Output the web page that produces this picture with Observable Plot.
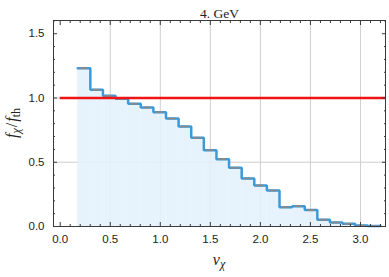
<!DOCTYPE html>
<html>
<head>
<meta charset="utf-8">
<script src="https://cdn.jsdelivr.net/npm/d3@7"></script>
<script src="https://cdn.jsdelivr.net/npm/@observablehq/plot@0.6"></script>
<style>
  html, body { margin: 0; padding: 0; background: #fff; }
</style>
</head>
<body>
<div id="chart"></div>
<script>
const title = "4. GeV";
// histogram bin edges (v_chi)
const binEdges = [0.175, 0.301, 0.427, 0.553, 0.679, 0.805, 0.931, 1.057, 1.183, 1.309,
  1.435, 1.561, 1.687, 1.813, 1.939, 2.065, 2.191, 2.317, 2.443, 2.569,
  2.695, 2.821, 2.947, 3.073, 3.199];
// f_chi / f_th per bin
const ratio = [1.232, 1.064, 1.017, 0.994, 0.955, 0.926, 0.890, 0.840, 0.778, 0.690,
  0.594, 0.524, 0.457, 0.374, 0.319, 0.280, 0.150, 0.158, 0.128, 0.053,
  0.031, 0.021, 0.007, 0.003];
const refValue = 1.0;
const refStart = 0.0;
const xDomain = [-0.067, 3.25];
const yDomain = [0, 1.603];
const xMajor = [0, 0.5, 1.0, 1.5, 2.0, 2.5, 3.0];
const xMinor = [0.1,0.2,0.3,0.4,0.6,0.7,0.8,0.9,1.1,1.2,1.3,1.4,1.6,1.7,1.8,1.9,2.1,2.2,2.3,2.4,2.6,2.7,2.8,2.9,3.1,3.2];
const yMajor = [0, 0.5, 1.0, 1.5];
const yMinor = [0.1,0.2,0.3,0.4,0.6,0.7,0.8,0.9,1.1,1.2,1.3,1.4,1.6];
const xGrid = [0.5, 1.0, 1.5, 2.0, 2.5, 3.0];
const yGrid = [0.5, 1.0];

const bins = ratio.map((v, i) => ({x1: binEdges[i], x2: binEdges[i + 1], y: v}));
const stepPts = bins.map(b => ({x: b.x1, y: b.y})).concat([{x: bins[bins.length - 1].x2, y: bins[bins.length - 1].y}]);
const centers = bins.map(b => ({x1: b.x1 + 0.2 * (b.x2 - b.x1), x2: b.x1 + 0.8 * (b.x2 - b.x1), y: b.y}));

const tickColor = "#3a3a3a";
const sans = "'Liberation Sans', Arial, sans-serif";
const serif = "'Liberation Serif', 'Times New Roman', serif";

const chart = Plot.plot({
  width: 389,
  height: 277,
  marginLeft: 53,
  marginRight: 4,
  marginTop: 20,
  marginBottom: 51,
  style: {fontFamily: sans, fontSize: "11.5px", color: "#222", background: "#fff"},
  x: {domain: xDomain},
  y: {domain: yDomain},
  marks: [
    Plot.gridX(xGrid, {stroke: "#cfcfcf", strokeOpacity: 1, strokeWidth: 1}),
    Plot.gridY(yGrid, {stroke: "#cfcfcf", strokeOpacity: 1, strokeWidth: 1}),
    Plot.rectY(bins, {x1: "x1", x2: "x2", y: "y", fill: "#e2f0fc", fillOpacity: 0.88}),
    Plot.lineY(stepPts, {x: "x", y: "y", curve: "step-after", stroke: "#3d9ad8", strokeWidth: 2.5, strokeLinejoin: "miter"}),
    Plot.ruleY(centers, {x1: "x1", x2: "x2", y: "y", stroke: "#8a8a8a", strokeWidth: 1.8}),
    Plot.ruleY([refValue], {x1: refStart, x2: xDomain[1], stroke: "#f01414", strokeWidth: 2.5}),
    // tick labels
    Plot.axisX(xMajor, {anchor: "bottom", tickSize: 0, tickPadding: 8, tickFormat: d3.format(".1f"), label: null, fontSize: 11.5, fill: "#222"}),
    Plot.axisY(yMajor, {anchor: "left", tickSize: 0, tickPadding: 9, tickFormat: d3.format(".1f"), label: null, fontSize: 11.5, fill: "#222"}),
    // inward ticks on all sides
    Plot.axisX(xMajor, {anchor: "bottom", tickSize: -4, text: null, label: null, stroke: tickColor}),
    Plot.axisX(xMinor, {anchor: "bottom", tickSize: -2, text: null, label: null, stroke: tickColor}),
    Plot.axisX(xMajor, {anchor: "top", tickSize: -4, text: null, label: null, stroke: tickColor}),
    Plot.axisX(xMinor, {anchor: "top", tickSize: -2, text: null, label: null, stroke: tickColor}),
    Plot.axisY(yMajor, {anchor: "left", tickSize: -4, text: null, label: null, stroke: tickColor}),
    Plot.axisY(yMinor, {anchor: "left", tickSize: -2, text: null, label: null, stroke: tickColor}),
    Plot.axisY(yMajor, {anchor: "right", tickSize: -4, text: null, label: null, stroke: tickColor}),
    Plot.axisY(yMinor, {anchor: "right", tickSize: -2, text: null, label: null, stroke: tickColor}),
    Plot.frame({stroke: tickColor, strokeWidth: 1}),
    Plot.text([title], {frameAnchor: "top", dy: -12, fontFamily: serif, fontSize: 13.5, fill: "#222"})
  ]
});

document.getElementById("chart").appendChild(chart);

// axis labels with subscripts
const svg = d3.select(chart);
const xl = svg.append("text")
  .attr("x", 219).attr("y", 265)
  .attr("text-anchor", "middle")
  .attr("font-family", serif).attr("font-size", 16).attr("fill", "#222");
xl.append("tspan").attr("font-style", "italic").text("v");
xl.append("tspan").attr("font-style", "italic").attr("font-size", 12).attr("dy", 3).text("χ");

const yl = svg.append("text")
  .attr("transform", "translate(17,123) rotate(-90)")
  .attr("text-anchor", "middle")
  .attr("font-family", serif).attr("font-size", 16).attr("fill", "#222");
yl.append("tspan").attr("font-style", "italic").text("f");
yl.append("tspan").attr("font-style", "italic").attr("font-size", 12).attr("dy", 3).text("χ");
yl.append("tspan").attr("dy", -3).attr("dx", 1).text("/");
yl.append("tspan").attr("font-style", "italic").attr("dx", 1).text("f");
yl.append("tspan").attr("font-size", 12).attr("dy", 3).text("th");
</script>
</body>
</html>
